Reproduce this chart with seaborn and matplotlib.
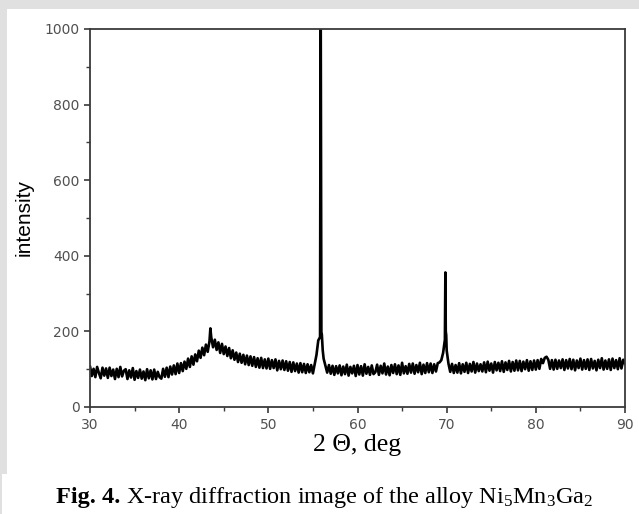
import numpy as np
import pandas as pd
import matplotlib
matplotlib.use("Agg")
import matplotlib.pyplot as plt
import seaborn as sns
from matplotlib.patches import Rectangle
from matplotlib.ticker import MultipleLocator

# ---- data ----
# intensity on a 0.2 deg grid from 30 to 90 deg (rows of 2 deg)
intensity_grid = [
    108, 82, 101, 79, 106, 90, 76, 104, 83, 102,     # 30
    77, 104, 82, 99, 74, 101, 79, 106, 81, 96,       # 32
    100, 74, 97, 78, 103, 72, 95, 77, 99, 75,        # 34
    94, 71, 100, 76, 97, 73, 99, 74, 93, 79,         # 36
    75, 101, 80, 104, 79, 107, 86, 110, 87, 115,     # 38
    90, 116, 95, 120, 101, 128, 106, 134, 112, 139,  # 40
    121, 149, 130, 157, 137, 165, 146, 174, 184, 158,# 42
    178, 151, 171, 143, 167, 140, 160, 135, 156, 129,# 44
    150, 125, 144, 119, 141, 117, 138, 113, 136, 111,# 46
    134, 109, 132, 106, 129, 104, 130, 103, 126, 102,# 48
    128, 101, 124, 103, 126, 97, 122, 100, 123, 98,  # 50
    121, 96, 119, 93, 118, 95, 115, 91, 116, 92,     # 52
    114, 90, 113, 92, 111, 89, 114, 138, 176, 185,   # 54
    192, 128, 109, 91, 111, 88, 109, 85, 108, 89,    # 56
    110, 84, 107, 87, 112, 83, 106, 89, 109, 82,     # 58
    111, 86, 108, 83, 113, 88, 106, 85, 110, 87,     # 60
    92, 112, 85, 109, 89, 115, 86, 107, 84, 111,     # 62
    90, 113, 87, 110, 85, 117, 89, 108, 88, 114,     # 64
    91, 115, 88, 111, 92, 117, 87, 112, 90, 116,     # 66
    92, 115, 90, 113, 94, 116, 118, 124, 143, 178,   # 68
    150, 115, 93, 114, 90, 111, 91, 116, 89, 113,    # 70
    93, 117, 90, 114, 94, 119, 91, 115, 95, 113,     # 72
    94, 118, 92, 120, 96, 115, 91, 119, 97, 117,     # 74
    95, 121, 93, 118, 98, 122, 94, 119, 96, 123,     # 76
    97, 122, 95, 120, 100, 124, 96, 121, 98, 123,    # 78
    99, 124, 101, 127, 116, 130, 133, 125, 101, 124, # 80
    99, 125, 101, 123, 103, 126, 98, 124, 102, 127,  # 82
    100, 125, 97, 123, 103, 128, 99, 124, 101, 126,  # 84
    98, 127, 102, 122, 97, 125, 103, 129, 99, 123,   # 86
    101, 126, 98, 128, 103, 124, 100, 129, 102, 125, # 88
    114,                                             # 90
]
grid_start, grid_end = 30.0, 90.0

# finer detail around the sharp reflections
peak_theta = [43.5, 55.86, 55.88, 55.95, 56.1, 69.845, 69.855, 69.9, 69.95]
peak_intensity = [208, 1000, 1000, 198, 150, 356, 356, 200, 190]

x_ticks = [30, 40, 50, 60, 70, 80, 90]
y_ticks = [0, 200, 400, 600, 800, 1000]

x_label = "2 \u0398, deg"
y_label = "intensity"
caption_bold = "Fig. 4."
caption_rest = r" X-ray diffraction image of the alloy Ni$_5$Mn$_3$Ga$_2$"

# ---- build table ----
grid_theta = np.linspace(grid_start, grid_end, len(intensity_grid))
df = pd.DataFrame({
    "theta": np.concatenate([grid_theta, peak_theta]),
    "intensity": np.concatenate([intensity_grid, peak_intensity]),
}).sort_values("theta").reset_index(drop=True)

# ---- style ----
sns.set_style("ticks")
plt.rcParams["font.family"] = ["DejaVu Sans"]
plt.rcParams["mathtext.fontset"] = "custom"
plt.rcParams["mathtext.rm"] = "Liberation Serif"
plt.rcParams["mathtext.it"] = "Liberation Serif:italic"
plt.rcParams["mathtext.bf"] = "Liberation Serif:bold"

W, H = 639, 514
fig = plt.figure(figsize=(W / 100, H / 100), dpi=100, facecolor="#e0e0e0")
# white panels behind everything
fig.patches.append(Rectangle((7 / W, 1 - 475 / H), 1 - 7 / W, (475 - 9) / H,
                             transform=fig.transFigure, facecolor="white",
                             edgecolor="none", zorder=-10))
fig.patches.append(Rectangle((2 / W, 0), 1 - 2 / W, 1 - 475 / H + 0.001,
                             transform=fig.transFigure, facecolor="white",
                             edgecolor="none", zorder=-10))

ax = fig.add_axes([90 / W, 1 - 407 / H, (625 - 90) / W, (407 - 29) / H])
ax.set_facecolor("white")
ax.set_zorder(5)

sns.lineplot(data=df, x="theta", y="intensity", ax=ax, color="black",
             linewidth=1.9, estimator=None, sort=False)

ax.set_xlim(30, 90)
ax.set_ylim(0, 1000)
ax.set_xticks(x_ticks)
ax.set_yticks(y_ticks)
ax.xaxis.set_minor_locator(MultipleLocator(5))
ax.yaxis.set_minor_locator(MultipleLocator(100))

spine_color = "#3a3a3a"
for s in ax.spines.values():
    s.set_visible(True)
    s.set_color(spine_color)
    s.set_linewidth(1.3)

ax.tick_params(axis="both", which="major", direction="out", length=4.5, width=1.2,
               color=spine_color, labelsize=10, labelcolor="#505050")
ax.tick_params(axis="both", which="minor", direction="out", length=3, width=1.0,
               color=spine_color)
ax.tick_params(axis="x", which="major", pad=3.5)
ax.tick_params(axis="y", which="major", pad=3)

ax.set_xlabel(x_label, fontsize=18.5, family="Liberation Serif", color="black", labelpad=1)
ax.set_ylabel(y_label, fontsize=15, family="Liberation Sans", color="black", labelpad=8)

# caption: bold part + regular part, laid out side by side
cap_fs = 17.5
cap_y = 1 - 503 / H
t1 = fig.text(0, cap_y, caption_bold, ha="left", va="baseline", fontsize=cap_fs,
              family="Liberation Serif", fontweight="bold", color="black", zorder=6)
t2 = fig.text(0, cap_y, caption_rest, ha="left", va="baseline", fontsize=cap_fs,
              family="Liberation Serif", color="black", zorder=6)
fig.canvas.draw()
r = fig.canvas.get_renderer()
w1 = t1.get_window_extent(r).width
w2 = t2.get_window_extent(r).width
x0 = 325 - (w1 + w2) / 2
t1.set_x(x0 / W)
t2.set_x((x0 + w1) / W)

fig.savefig("out.png", dpi=100, facecolor=fig.get_facecolor())
